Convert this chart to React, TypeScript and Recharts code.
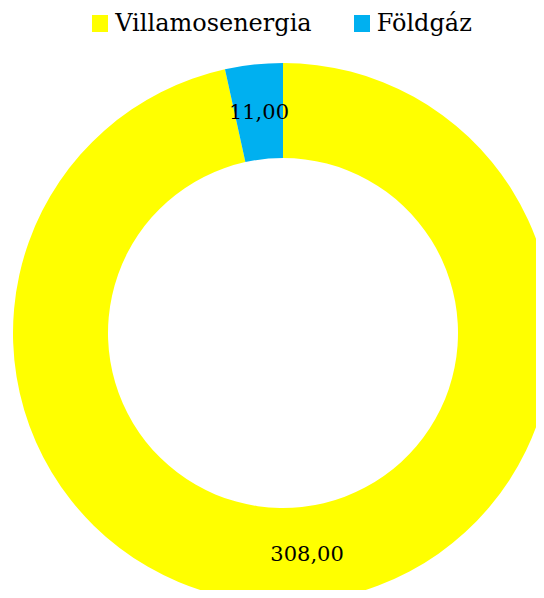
import { PieChart, Pie, Cell } from 'recharts';

const categories = ['Villamosenergia', 'Földgáz'];
const values = [308, 11];
const COLORS = ['#FFFF00', '#00B0F0'];

const data = categories.map((name, i) => ({ name, value: values[i] }));

const FONT = '"DejaVu Serif", "Liberation Serif", serif';
const RADIAN = Math.PI / 180;

const renderLabel = (props: any) => {
  const { cx, cy, midAngle, innerRadius, outerRadius, value } = props;
  const r = (innerRadius + outerRadius) / 2;
  const x = cx + r * Math.cos(-midAngle * RADIAN);
  const y = cy + r * Math.sin(-midAngle * RADIAN);
  return (
    <text x={x} y={y} fill="#000" textAnchor="middle" dominantBaseline="central" fontFamily={FONT} fontSize={21}>
      {value.toFixed(2).replace('.', ',')}
    </text>
  );
};

const App = () => {
  return (
    <div style={{ margin: -8, width: 544, height: 598, background: '#fff', overflow: 'hidden', position: 'relative' }}>
      <div
        style={{
          position: 'absolute',
          top: 10,
          left: 0,
          width: 544,
          display: 'flex',
          justifyContent: 'center',
          gap: 42,
          fontFamily: FONT,
          fontSize: 24,
          lineHeight: '26px',
          color: '#000',
          paddingLeft: 20,
          boxSizing: 'border-box',
        }}
      >
        {categories.map((c, i) => (
          <div key={c} style={{ display: 'flex', alignItems: 'center' }}>
            <span style={{ width: 16, height: 17, background: COLORS[i], display: 'inline-block', marginRight: 7 }} />
            <span>{c}</span>
          </div>
        ))}
      </div>
      <PieChart width={544} height={598} margin={{ top: 0, right: 0, bottom: 0, left: 0 }}>
        <Pie
          data={data}
          dataKey="value"
          nameKey="name"
          cx={283}
          cy={333}
          innerRadius={175}
          outerRadius={270}
          startAngle={90}
          endAngle={-270}
          stroke="none"
          label={renderLabel}
          labelLine={false}
          isAnimationActive={false}
        >
          {data.map((_d, i) => (
            <Cell key={`cell-${i}`} fill={COLORS[i]} />
          ))}
        </Pie>
      </PieChart>
    </div>
  );
};

export default App;
